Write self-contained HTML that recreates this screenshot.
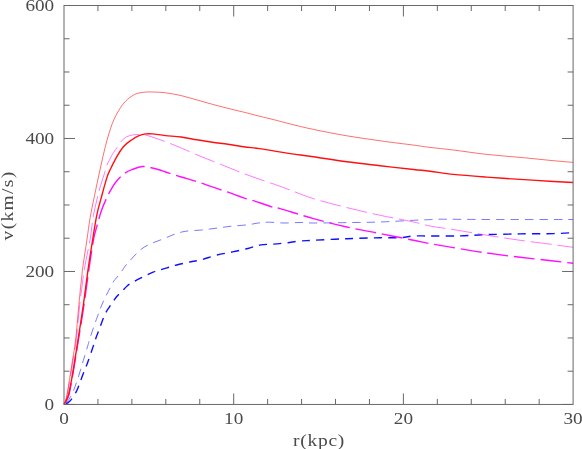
<!DOCTYPE html><html><head><meta charset="utf-8"><style>html,body{margin:0;padding:0;background:#fff}svg{display:block;position:absolute;left:0;top:0}text{font-family:"Liberation Serif",serif;font-size:16px;fill:#3a3a3a}</style></head><body>
<svg width="582" height="449" viewBox="0 0 582 449">
<rect width="582" height="449" fill="#fff"/>
<path d="M573.1,219.5C558.7,219.5 509.0,219.6 486.8,219.5C464.6,219.4 449.5,219.2 440.0,219.2C430.5,219.2 434.4,219.4 430.0,219.6C425.6,219.8 421.9,219.9 413.6,220.3C405.3,220.7 391.3,221.6 380.2,222.0C369.1,222.4 357.9,222.4 346.8,222.6C335.7,222.8 321.2,223.0 313.4,223.0C305.6,223.0 304.9,222.5 300.0,222.5C295.1,222.5 289.2,223.1 284.0,223.0C278.8,222.9 272.9,222.2 268.6,222.2C264.3,222.2 261.6,222.6 258.2,223.0C254.8,223.4 252.2,224.3 247.9,224.8C243.6,225.3 237.7,225.6 232.5,226.1C227.3,226.6 222.2,227.4 217.0,228.1C211.8,228.8 206.7,229.5 201.5,230.0C196.3,230.5 190.4,230.6 186.1,231.2C181.8,231.8 179.7,232.5 175.8,233.8C171.9,235.1 167.2,237.3 162.9,239.0C158.6,240.7 153.8,242.3 150.0,244.1C146.2,245.9 143.6,247.2 140.2,250.0C136.8,252.8 132.3,258.1 129.8,260.8C127.3,263.5 126.4,264.5 125.1,266.2C123.8,267.9 123.4,268.9 122.0,270.9C120.6,272.8 117.9,276.1 116.5,277.9C115.1,279.7 115.1,278.9 113.4,281.8C111.7,284.7 108.4,291.2 106.4,295.1C104.5,299.0 103.3,301.4 101.7,305.2C100.1,309.0 99.0,312.2 97.0,317.7C95.0,323.2 91.5,333.5 90.0,338.0C88.5,342.5 89.2,341.0 88.1,344.7C87.0,348.4 85.0,355.1 83.4,360.3C81.8,365.5 80.5,370.4 78.7,375.9C76.9,381.3 74.5,388.6 72.5,393.0C70.5,397.4 68.4,400.1 67.0,402.0C65.6,403.9 64.5,404.0 64.0,404.4" fill="none" stroke="#3030ff" stroke-width="0.65" stroke-dasharray="8.4 6" stroke-dashoffset="3.5"/>
<path d="M573.1,232.6C569.9,232.8 562.4,233.4 553.6,233.6C544.8,233.8 531.3,233.7 520.2,233.9C509.1,234.1 496.8,234.3 486.8,234.6C476.8,234.9 469.5,235.7 460.0,235.9C450.5,236.1 437.7,236.0 430.0,236.0C422.3,236.0 418.6,235.7 413.6,236.0C408.7,236.3 405.9,237.4 400.3,237.7C394.7,238.0 389.1,237.5 380.2,237.7C371.3,237.9 357.9,238.3 346.8,238.7C335.7,239.1 321.2,239.9 313.4,240.3C305.6,240.7 304.5,240.6 300.0,241.0C295.5,241.4 291.0,242.3 286.6,242.8C282.2,243.3 278.0,243.8 273.7,244.1C269.4,244.4 265.1,244.2 260.8,244.9C256.5,245.6 252.6,247.3 247.9,248.5C243.2,249.7 237.7,250.8 232.5,251.9C227.3,253.0 222.2,253.7 217.0,255.0C211.8,256.3 206.2,258.5 201.5,259.7C196.8,260.9 193.0,261.3 188.7,262.2C184.4,263.1 179.4,264.3 175.8,265.2C172.2,266.1 169.9,267.0 167.2,267.8C164.5,268.6 161.7,269.4 159.4,270.1C157.1,270.8 155.4,271.3 153.2,272.2C151.0,273.1 148.4,274.3 146.2,275.3C144.0,276.3 142.0,277.3 139.9,278.4C137.8,279.5 135.8,280.6 133.7,281.8C131.6,283.0 129.3,284.1 127.4,285.7C125.5,287.3 123.8,289.4 122.0,291.2C120.2,293.0 117.9,295.0 116.5,296.7C115.1,298.4 114.6,299.6 113.4,301.3C112.2,303.0 110.9,304.6 109.5,306.8C108.1,309.0 106.4,311.2 104.8,314.6C103.2,318.0 101.6,323.0 100.1,327.1C98.6,331.2 96.8,335.6 95.6,339.0C94.4,342.4 94.1,343.7 92.7,347.8C91.3,351.9 89.1,358.5 87.3,363.4C85.5,368.3 83.6,372.7 81.8,377.4C80.0,382.1 78.5,387.4 76.4,391.4C74.3,395.4 71.5,399.4 69.4,401.6C67.3,403.8 64.9,403.9 64.0,404.4" fill="none" stroke="#1010ff" stroke-width="1.4" stroke-dasharray="8.2 6.2" stroke-dashoffset="10.3"/>
<path d="M573.1,247.3C569.9,246.9 562.4,245.8 553.6,244.6C544.8,243.4 531.3,241.9 520.2,240.3C509.1,238.7 497.9,237.0 486.8,235.2C475.7,233.4 462.9,231.1 453.4,229.6C443.9,228.1 436.6,227.3 430.0,226.0C423.4,224.7 421.9,223.8 413.6,222.0C405.3,220.2 391.3,217.7 380.2,215.3C369.1,212.9 357.9,210.4 346.8,207.6C335.7,204.8 322.9,201.5 313.4,198.6C303.9,195.7 296.4,192.4 290.0,190.0C283.6,187.6 279.8,186.2 274.7,184.4C269.6,182.6 264.3,180.9 259.1,179.1C253.9,177.3 248.7,175.5 243.5,173.5C238.3,171.5 233.2,169.4 228.0,167.3C222.8,165.2 217.6,163.1 212.4,161.0C207.2,158.9 202.0,157.0 196.8,154.8C191.6,152.6 186.4,150.2 181.2,148.0C176.0,145.8 170.0,143.4 165.6,141.7C161.2,140.0 157.9,139.0 154.6,137.9C151.3,136.8 148.5,135.6 145.7,135.0C142.9,134.4 140.1,134.6 137.9,134.6C135.7,134.6 134.2,134.6 132.3,135.0C130.4,135.4 128.6,135.8 126.7,136.8C124.8,137.9 122.9,139.4 121.2,141.3C119.5,143.2 118.2,145.8 116.7,148.0C115.2,150.2 114.0,151.6 112.3,154.6C110.6,157.6 108.0,162.7 106.7,165.8C105.4,168.9 105.8,169.2 104.5,173.4C103.2,177.6 100.8,184.1 99.0,191.2C97.2,198.2 94.9,207.6 93.4,215.7C91.9,223.8 91.6,230.7 90.0,240.0C88.4,249.3 85.7,260.6 84.0,271.4C82.3,282.2 81.1,293.2 79.8,304.6C78.5,316.0 77.3,330.7 76.2,340.0C75.1,349.3 74.0,354.3 73.0,360.3C72.0,366.3 71.5,370.2 70.5,375.9C69.5,381.6 68.1,390.3 67.3,394.6C66.5,398.9 66.0,399.9 65.4,401.5C64.9,403.1 64.2,403.9 64.0,404.4" fill="none" stroke="#ff30ff" stroke-width="0.65" stroke-dasharray="21 5.8" stroke-dashoffset="5.1"/>
<path d="M573.1,263.3C569.9,262.9 562.4,262.0 553.6,261.0C544.8,260.0 531.3,258.6 520.2,257.3C509.1,256.0 497.9,254.6 486.8,253.0C475.7,251.4 462.9,249.2 453.4,247.6C443.9,246.0 436.6,244.9 430.0,243.7C423.4,242.5 421.9,242.0 413.6,240.3C405.3,238.6 391.3,235.8 380.2,233.6C369.1,231.4 357.9,229.5 346.8,227.0C335.7,224.5 324.5,221.7 313.4,218.6C302.3,215.5 286.4,210.4 280.0,208.6C273.6,206.8 278.2,208.8 274.7,207.8C271.2,206.8 264.3,204.2 259.1,202.5C253.9,200.8 248.7,199.5 243.5,197.8C238.3,196.1 233.2,194.0 228.0,192.2C222.8,190.4 217.6,188.7 212.4,186.9C207.2,185.1 202.0,183.2 196.8,181.6C191.6,179.9 186.4,178.6 181.2,177.0C176.0,175.4 169.1,173.2 165.6,172.0C162.1,170.8 162.4,170.7 160.0,170.0C157.6,169.3 154.2,168.4 151.3,167.8C148.4,167.2 145.4,166.3 142.4,166.5C139.4,166.7 136.5,167.8 133.5,169.0C130.5,170.2 127.6,171.2 124.6,173.4C121.6,175.6 118.1,179.3 115.7,182.3C113.3,185.3 111.8,188.2 110.1,191.2C108.4,194.2 107.2,196.8 105.7,200.1C104.2,203.4 102.7,206.8 101.2,211.3C99.7,215.8 98.0,222.1 96.7,226.9C95.4,231.7 94.8,232.6 93.4,240.0C92.1,247.4 90.2,260.6 88.6,271.4C87.0,282.2 85.7,293.2 84.0,304.6C82.3,316.0 79.9,330.7 78.4,340.0C76.9,349.3 76.2,353.8 75.1,360.3C74.0,366.8 73.0,373.3 72.0,379.0C71.0,384.7 69.9,390.9 68.9,394.6C67.9,398.3 67.0,399.4 66.2,401.0C65.4,402.6 64.4,403.8 64.0,404.4" fill="none" stroke="#ff10ff" stroke-width="1.4" stroke-dasharray="21 5.8" stroke-dashoffset="14.9"/>
<path d="M573.1,162.4C569.9,162.1 562.4,161.5 553.6,160.7C544.8,159.9 531.3,158.4 520.2,157.4C509.1,156.4 497.9,155.6 486.8,154.4C475.7,153.2 462.9,151.2 453.4,150.0C443.9,148.8 436.6,148.2 430.0,147.4C423.4,146.6 421.9,146.2 413.6,145.1C405.3,144.0 391.3,142.4 380.2,140.8C369.1,139.2 357.9,137.7 346.8,135.8C335.7,133.9 322.9,131.4 313.4,129.4C303.9,127.4 296.4,125.5 290.0,123.9C283.6,122.3 279.8,121.2 274.7,119.9C269.6,118.6 264.3,117.4 259.1,116.1C253.9,114.8 248.7,113.4 243.5,112.1C238.3,110.8 233.2,109.7 228.0,108.4C222.8,107.1 217.6,105.7 212.4,104.3C207.2,102.9 202.0,101.4 196.8,99.9C191.6,98.5 186.4,96.8 181.2,95.6C176.0,94.4 170.4,93.4 165.6,92.8C160.8,92.2 156.1,92.1 152.4,92.0C148.7,91.9 146.5,91.9 143.5,92.3C140.5,92.7 137.5,93.0 134.5,94.5C131.5,96.0 128.2,98.6 125.6,101.2C123.0,103.8 121.2,106.4 119.0,110.1C116.8,113.8 114.5,117.6 112.3,123.5C110.1,129.4 107.6,137.8 105.6,145.5C103.6,153.2 101.9,161.1 100.1,169.5C98.2,177.9 96.2,187.6 94.5,195.7C92.8,203.8 91.4,210.6 90.1,218.0C88.8,225.4 88.2,231.1 86.9,240.0C85.6,248.9 83.6,260.6 82.3,271.4C81.0,282.2 80.0,293.2 78.9,304.6C77.8,316.0 76.7,330.7 75.6,340.0C74.5,349.3 73.4,354.3 72.5,360.3C71.6,366.3 71.0,370.2 70.1,375.9C69.2,381.6 67.8,390.3 67.0,394.6C66.2,398.9 65.7,399.9 65.2,401.5C64.7,403.1 64.2,403.9 64.0,404.4" fill="none" stroke="#ff2020" stroke-width="0.65"/>
<path d="M573.1,182.5C569.9,182.3 562.4,182.0 553.6,181.5C544.8,181.0 531.3,180.1 520.2,179.4C509.1,178.7 497.9,177.9 486.8,177.1C475.7,176.3 462.9,175.4 453.4,174.4C443.9,173.4 436.6,172.0 430.0,171.2C423.4,170.4 421.9,170.4 413.6,169.5C405.3,168.6 391.3,167.1 380.2,165.8C369.1,164.5 357.9,163.3 346.8,161.8C335.7,160.3 322.9,158.2 313.4,156.8C303.9,155.4 296.4,154.6 290.0,153.6C283.6,152.6 279.8,151.9 274.7,151.1C269.6,150.3 264.3,149.3 259.1,148.6C253.9,147.9 248.7,147.4 243.5,146.7C238.3,146.0 233.2,144.9 228.0,144.2C222.8,143.5 217.6,143.0 212.4,142.3C207.2,141.6 202.0,140.7 196.8,139.8C191.6,138.9 186.4,137.7 181.2,137.0C176.0,136.3 170.4,136.1 165.6,135.6C160.8,135.1 155.7,134.2 152.4,133.9C149.1,133.6 147.9,133.6 145.7,133.9C143.5,134.2 141.4,134.6 139.0,135.7C136.6,136.8 133.8,138.3 131.2,140.2C128.6,142.0 125.8,144.0 123.4,146.8C121.0,149.6 118.9,153.0 116.7,156.9C114.5,160.8 111.7,166.5 110.0,170.0C108.3,173.5 108.3,173.2 106.8,177.9C105.3,182.6 102.9,191.6 101.2,197.9C99.5,204.2 98.1,208.7 96.7,215.7C95.3,222.7 94.1,230.7 92.6,240.0C91.1,249.3 89.3,260.6 87.8,271.4C86.3,282.2 85.0,293.2 83.4,304.6C81.8,316.0 79.4,330.7 78.0,340.0C76.6,349.3 75.8,353.8 74.8,360.3C73.8,366.8 72.7,373.3 71.7,379.0C70.7,384.7 69.5,390.9 68.6,394.6C67.6,398.3 66.8,399.4 66.0,401.0C65.2,402.6 64.3,403.8 64.0,404.4" fill="none" stroke="#ff1010" stroke-width="1.4"/>
<rect x="64.0" y="5.5" width="509.1" height="398.95" fill="none" stroke="#686868" stroke-width="1"/>
<path d="M97.94,404.45v-5.5M97.94,5.5v5.5M131.88,404.45v-5.5M131.88,5.5v5.5M165.82,404.45v-5.5M165.82,5.5v5.5M199.76,404.45v-5.5M199.76,5.5v5.5M233.70,404.45v-11M233.70,5.5v11M267.64,404.45v-5.5M267.64,5.5v5.5M301.58,404.45v-5.5M301.58,5.5v5.5M335.52,404.45v-5.5M335.52,5.5v5.5M369.46,404.45v-5.5M369.46,5.5v5.5M403.40,404.45v-11M403.40,5.5v11M437.34,404.45v-5.5M437.34,5.5v5.5M471.28,404.45v-5.5M471.28,5.5v5.5M505.22,404.45v-5.5M505.22,5.5v5.5M539.16,404.45v-5.5M539.16,5.5v5.5M64.0,404.45h11M573.1,404.45h-11M64.0,371.20h5.5M573.1,371.20h-5.5M64.0,337.96h5.5M573.1,337.96h-5.5M64.0,304.71h5.5M573.1,304.71h-5.5M64.0,271.47h11M573.1,271.47h-11M64.0,238.22h5.5M573.1,238.22h-5.5M64.0,204.98h5.5M573.1,204.98h-5.5M64.0,171.73h5.5M573.1,171.73h-5.5M64.0,138.48h11M573.1,138.48h-11M64.0,105.24h5.5M573.1,105.24h-5.5M64.0,71.99h5.5M573.1,71.99h-5.5M64.0,38.75h5.5M573.1,38.75h-5.5M64.0,5.50h11M573.1,5.50h-11" stroke="#686868" stroke-width="1" fill="none"/>
<g opacity="0.92">
<text transform="translate(64.0,423.7) scale(1.2,1)" text-anchor="middle">0</text>
<text transform="translate(233.70000000000002,423.7) scale(1.2,1)" text-anchor="middle">10</text>
<text transform="translate(403.40000000000003,423.7) scale(1.2,1)" text-anchor="middle">20</text>
<text transform="translate(573.1000000000001,423.7) scale(1.2,1)" text-anchor="middle">30</text>
<text transform="translate(54.2,410.1) scale(1.2,1)" text-anchor="end">0</text>
<text transform="translate(54.2,277.2) scale(1.2,1)" text-anchor="end">200</text>
<text transform="translate(54.2,144.2) scale(1.2,1)" text-anchor="end">400</text>
<text transform="translate(54.2,11.2) scale(1.2,1)" text-anchor="end">600</text>
<text transform="translate(319,446.1) scale(1.22,1)" text-anchor="middle" style="font-size:16px;letter-spacing:0.6px">r(kpc)</text>
<text transform="translate(12.5,205.4) rotate(-90) scale(1.22,1)" text-anchor="middle" style="font-size:16px;letter-spacing:1.1px">v(km/s)</text>
</g>
</svg></body></html>
